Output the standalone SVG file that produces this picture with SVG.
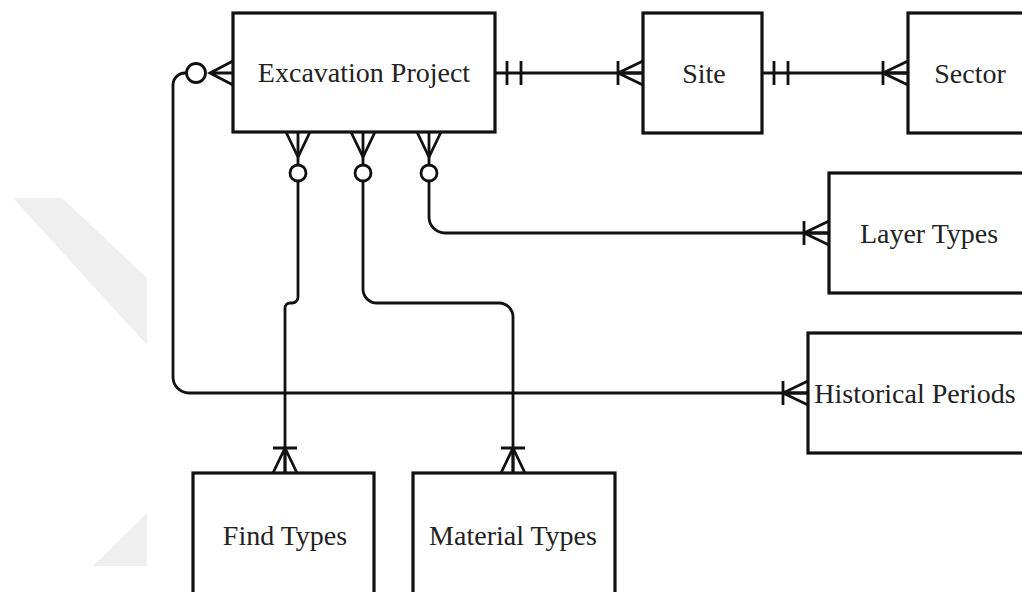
<svg xmlns="http://www.w3.org/2000/svg" width="1022" height="592" viewBox="0 0 1022 592">
<style>
.box{fill:#fff;stroke:#111;stroke-width:3.2}
.lbl{font-size:28px;fill:#222;text-anchor:middle}
.ln{fill:none;stroke:#111;stroke-width:2.8}
.circ{fill:#fff;stroke:#111;stroke-width:2.8}
.wm{fill:#efefef;stroke:none}
</style>
<defs>
<g id="crowMand"><path class="ln" d="M-25,0 L0,-12 M-25,0 L0,12 M-25,0 H0 M-25,-12 V12"/></g>
<g id="oneMand"><path class="ln" d="M12,-12 V12 M26,-12 V12"/></g>
</defs>
<g id="watermark">
<polygon class="wm" points="13,198 62,198 147,278 147,345"/>
<polygon class="wm" points="147,513 93,566 147,566"/>
</g>
<g id="connectors">
<path class="ln" d="M495,73 H643"/>
<use href="#oneMand" transform="translate(495,73)"/>
<use href="#crowMand" transform="translate(643,73)"/>
<path class="ln" d="M762,73 H908"/>
<use href="#oneMand" transform="translate(762,73)"/>
<use href="#crowMand" transform="translate(908,73)"/>
<path class="ln" d="M429,132 V217 A16,16 0 0 0 445,233 H829"/>
<path class="ln" d="M417,132 L429,157 L441,132"/>
<circle class="circ" cx="429" cy="173" r="8"/>
<use href="#crowMand" transform="translate(829,233)"/>
<path class="ln" d="M186,73 H185 A12,12 0 0 0 173,85 V377 A16,16 0 0 0 189,393 H808"/>
<path class="ln" d="M233,61 L210,73 L233,85 M210,73 H233"/>
<circle class="circ" cx="196" cy="73" r="9.5"/>
<use href="#crowMand" transform="translate(808,393)"/>
<path class="ln" d="M298,132 V297 A6,6 0 0 1 292,303 H290 A5,5 0 0 0 285,308 V473"/>
<path class="ln" d="M286,132 L298,157 L310,132"/>
<circle class="circ" cx="298" cy="173" r="8"/>
<use href="#crowMand" transform="translate(285,473) rotate(90)"/>
<path class="ln" d="M363,132 V289 A14,14 0 0 0 377,303 H499 A14,14 0 0 1 513,317 V473"/>
<path class="ln" d="M351,132 L363,157 L375,132"/>
<circle class="circ" cx="363" cy="173" r="8"/>
<use href="#crowMand" transform="translate(513,473) rotate(90)"/>
</g>
<g id="node-excavation"><rect class="box" x="233" y="13" width="262" height="119"/><text class="lbl" font-family="'Liberation Serif', 'DejaVu Serif', serif" x="364" y="82">Excavation Project</text></g>
<g id="node-site"><rect class="box" x="643" y="13" width="119" height="120"/><text class="lbl" font-family="'Liberation Serif', 'DejaVu Serif', serif" x="704" y="83">Site</text></g>
<g id="node-sector"><rect class="box" x="908" y="13" width="140" height="120"/><text class="lbl" font-family="'Liberation Serif', 'DejaVu Serif', serif" x="970" y="83">Sector</text></g>
<g id="node-layer"><rect class="box" x="829" y="173" width="220" height="120"/><text class="lbl" font-family="'Liberation Serif', 'DejaVu Serif', serif" x="929" y="243">Layer Types</text></g>
<g id="node-historical"><rect class="box" x="808" y="333" width="240" height="120"/><text class="lbl" font-family="'Liberation Serif', 'DejaVu Serif', serif" x="915" y="403">Historical Periods</text></g>
<g id="node-find"><rect class="box" x="193" y="473" width="181" height="140"/><text class="lbl" font-family="'Liberation Serif', 'DejaVu Serif', serif" x="285" y="545">Find Types</text></g>
<g id="node-material"><rect class="box" x="413" y="473" width="202" height="140"/><text class="lbl" font-family="'Liberation Serif', 'DejaVu Serif', serif" x="513" y="545">Material Types</text></g>
</svg>
